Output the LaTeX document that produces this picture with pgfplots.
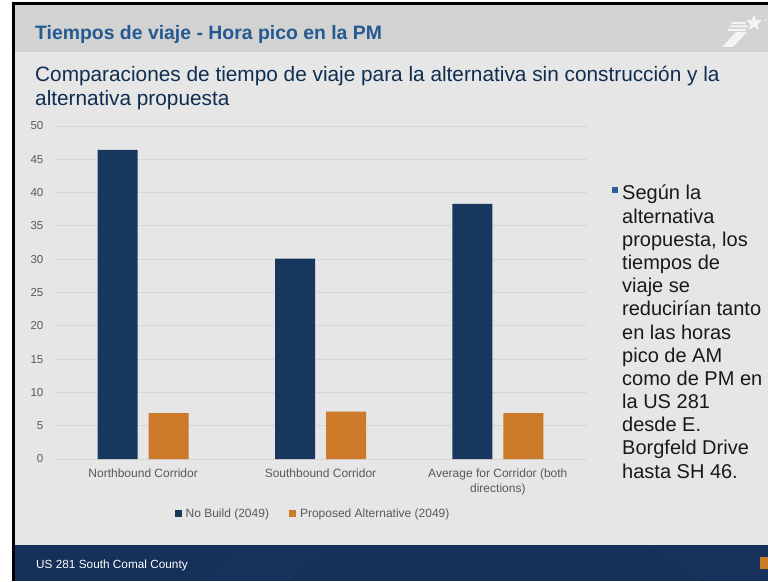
\documentclass[border=0pt]{standalone}
\usepackage{pgfplots}
\pgfplotsset{compat=1.18}
\usepackage{fontspec}
\setmainfont{Liberation Sans}
\usetikzlibrary{shapes.geometric}
\definecolor{navy}{HTML}{17375E}
\definecolor{orng}{HTML}{CC7A29}
\definecolor{slidebg}{HTML}{E6E6E6}
\definecolor{titlebg}{HTML}{D2D2D2}
\definecolor{titleblue}{HTML}{245A91}
\definecolor{subnavy}{HTML}{0F2D50}
\definecolor{footer}{HTML}{15315A}
\definecolor{footerlight}{HTML}{1C3A64}
\definecolor{tickgray}{HTML}{595959}
\definecolor{gridgray}{HTML}{D6D6D6}
\definecolor{bulletblue}{HTML}{2F5F98}
\definecolor{logow}{HTML}{F4F4F4}

\pgfplotstableread{
x nobuild proposed
0 46.4 6.9
1 30.1 7.1
2 38.3 6.9
}\traveltimes

\begin{document}
\begin{tikzpicture}[x=1pt,y=1pt]
\path[use as bounding box] (0,0) rectangle (768,581);
\fill[white] (0,0) rectangle (768,581);
\fill[black] (12,0) rectangle (768,579);
\fill[slidebg] (15,0) rectangle (768,576);
\fill[titlebg] (15,529) rectangle (768,576);
\fill[footer] (15,0) rectangle (768,36);
\fill[footerlight,opacity=0.3] (250,36) -- (330,36) -- (290,0) -- (200,0) -- cycle;
\fill[footerlight,opacity=0.3] (650,36) -- (768,36) -- (768,0) -- (700,0) -- cycle;
\fill[orng] (760,12) rectangle (768,24);

% logo
\fill[logow] (722,534) -- (733,534) -- (747,549) -- (736,549) -- cycle;
\fill[logow] (727,550) -- (745,550) -- (746,552) -- (728,552) -- cycle;
\fill[logow] (729,553.5) -- (747,553.5) -- (748,555.5) -- (730,555.5) -- cycle;
\fill[logow] (731,557) -- (745,557) -- (746,559) -- (732,559) -- cycle;
\node[star, star points=5, star point ratio=2.3, fill=logow, inner sep=0pt, minimum size=17pt] at (754,558) {};
\fill[logow] (766,561) circle (1.2);

% titles
\node[anchor=base west, inner sep=0pt, text=titleblue, font=\bfseries\fontsize{19.4}{22}\selectfont] at (35,541) {Tiempos de viaje - Hora pico en la PM};
\node[anchor=base west, inner sep=0pt, text=subnavy, font=\fontsize{20.8}{24}\selectfont] at (35,499) {Comparaciones de tiempo de viaje para la alternativa sin construcción y la};
\node[anchor=base west, inner sep=0pt, text=subnavy, font=\fontsize{20.8}{24}\selectfont] at (35,475) {alternativa propuesta};

% footer text
\node[anchor=base west, inner sep=0pt, text=white, font=\fontsize{11.8}{14}\selectfont] at (36,13) {US 281 South Comal County};

% bullet text
\fill[bulletblue] (612,388) rectangle (618,394);
\foreach \t [count=\i] in {{Según la},{alternativa},{propuesta, los},{tiempos de},{viaje se},{reducirían tanto},{en las horas},{pico de AM},{como de PM en},{la US 281},{desde E.},{Borgfeld Drive},{hasta SH 46.}}{
  \node[anchor=base west, inner sep=0pt, text=black!90, font=\fontsize{20}{23}\selectfont] at (622,{381-23.17*(\i-1)}) {\t};
}

\begin{axis}[
  at={(54.5pt,122pt)}, anchor=south west,
  width=532pt, height=333pt, scale only axis,
  xmin=-0.5, xmax=2.5, ymin=0, ymax=50,
  ytick={0,5,...,50},
  xtick={0,1,2},
  xticklabels={Northbound Corridor,Southbound Corridor,{Average for Corridor (both\\directions)}},
  axis line style={draw=none},
  major tick length=0pt,
  ymajorgrids,
  grid style={gridgray, line width=1pt},
  /pgf/number format/assume math mode=true,
  yticklabel style={font=\fontsize{11.5}{14}\selectfont, text=tickgray, anchor=east, inner sep=0pt, xshift=-11pt},
  xticklabel style={font=\fontsize{12}{15}\selectfont, text=tickgray, align=center, anchor=north, inner sep=0pt, yshift=-9.5pt},
  legend style={at={(axis description cs:0.486,-0.165)}, anchor=center, draw=none, fill=none,
    font=\fontsize{12}{14}\selectfont, text=tickgray,
    /tikz/every odd column/.append style={column sep=2pt},
    /tikz/every even column/.append style={column sep=18pt}},
  legend columns=2,
  clip=false,
]
\addplot[ybar, bar width=40pt, bar shift=-25.5pt, fill=navy, draw=none,
  legend image code/.code={\fill[navy] (0pt,-3.5pt) rectangle (7pt,3.5pt);}]
  table[x=x, y=nobuild] {\traveltimes};
\addlegendentry{No Build (2049)}
\addplot[ybar, bar width=40pt, bar shift=25.5pt, fill=orng, draw=none,
  legend image code/.code={\fill[orng] (0pt,-3.5pt) rectangle (7pt,3.5pt);}]
  table[x=x, y=proposed] {\traveltimes};
\addlegendentry{Proposed Alternative (2049)}
\end{axis}
\end{tikzpicture}
\end{document}
